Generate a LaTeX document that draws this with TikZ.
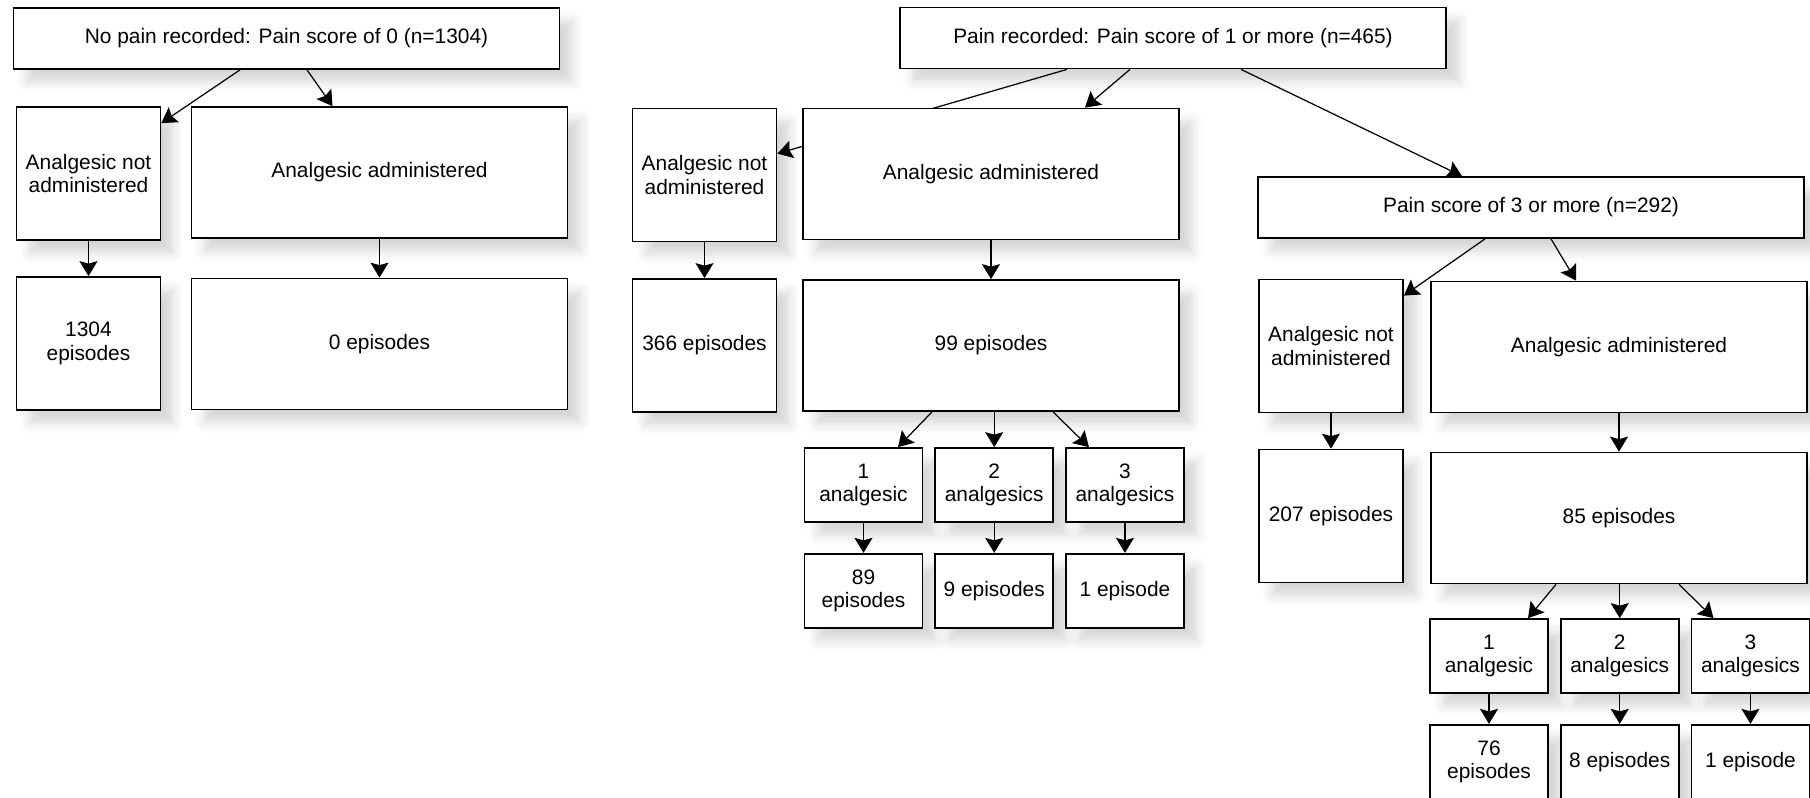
\documentclass[tikz,border=0pt]{standalone}
\usepackage{fontspec}
\setmainfont{Liberation Sans}
\usepackage{tikz}
\usetikzlibrary{arrows.meta,positioning,shadows.blur,backgrounds}
\tikzset{main box/.style={rectangle,draw,fill=white,line width=1pt,inner sep=2pt,align=center,font=\fontsize{11.9}{13.5}\selectfont,blur shadow={shadow xshift=0.26cm,shadow yshift=-0.26cm,shadow blur radius=0.2cm,shadow opacity=16}},}
\tikzset{wide box/.style={main box,minimum width=10.92cm,minimum height=1.22cm},}
\tikzset{admin box/.style={main box,minimum width=7.52cm,minimum height=2.62cm},}
\tikzset{narrow box/.style={main box,minimum width=2.88cm,minimum height=2.66cm},}
\tikzset{small box/.style={main box,minimum width=2.36cm,minimum height=1.48cm},}
\tikzset{link/.style={-{Stealth[length=0.3cm,width=0.36cm,inset=0.05cm]},line width=0.7pt},}

\begin{document}
\begin{tikzpicture}[x=0.02cm,y=-0.02cm]
    \useasboundingbox (0,0) rectangle (1810,798);

    % no pain
    \node[wide box] (nopain) at (286.5,38.5) {No pain recorded: Pain score of 0 (n=1304)};
    \node[narrow box] (nopainnot) at (88.5,173.5) {Analgesic not\\administered};
    \node[admin box] (nopainadm) at (379.5,172.5) {Analgesic administered};
    \node[narrow box] (nopainnotep) at (88.5,343.5) {1304\\episodes};
    \node[admin box] (nopainadmep) at (379.5,344) {0 episodes};

    % pain 1 or more
    \node[wide box] (pain) at (1173,38) {Pain recorded: Pain score of 1 or more (n=465)};
    \node[narrow box] (painnot) at (704.5,175) {Analgesic not\\administered};
    \node[admin box] (painadm) at (991,174) {Analgesic administered};
    \node[narrow box] (painnotep) at (704.5,345.5) {366 episodes};
    \node[admin box] (painadmep) at (991,345.5) {99 episodes};
    \node[small box] (pain1) at (863.5,485) {1\\analgesic};
    \node[small box] (pain2) [right = 0.22cm of pain1] {2\\analgesics};
    \node[small box] (pain3) [right = 0.22cm of pain2] {3\\analgesics};
    \node[small box] (pain1ep) [below = 0.6cm of pain1] {89\\episodes};
    \node[small box] (pain2ep) [below = 0.6cm of pain2] {9 episodes};
    \node[small box] (pain3ep) [below = 0.6cm of pain3] {1 episode};

    % pain 3 or more
    \node[wide box] (severe) at (1531,207.5) {Pain score of 3 or more (n=292)};
    \node[narrow box] (severenot) at (1331,346) {Analgesic not\\administered};
    \node[admin box] (severeadm) at (1619,347) {Analgesic administered};
    \node[narrow box] (severenotep) at (1331,516) {207 episodes};
    \node[admin box] (severeadmep) at (1619,518) {85 episodes};
    \node[small box] (severe1) at (1489,656) {1\\analgesic};
    \node[small box] (severe2) [right = 0.22cm of severe1] {2\\analgesics};
    \node[small box] (severe3) [right = 0.22cm of severe2] {3\\analgesics};
    \node[small box] (severe1ep) [below = 0.6cm of severe1] {76\\episodes};
    \node[small box] (severe2ep) [below = 0.6cm of severe2] {8 episodes};
    \node[small box] (severe3ep) [below = 0.6cm of severe3] {1 episode};

    \path[link] ([xshift=-0.93cm]nopain.south) edge ([yshift=-0.34cm]nopainnot.north east);
    \path[link] ([xshift=0.41cm]nopain.south) edge ([xshift=-0.94cm]nopainadm.north);
    \path[link] (nopainnot) edge (nopainnotep);
    \path[link] (nopainadm) edge (nopainadmep);

    \begin{scope}[on background layer]
    \path[link] ([xshift=-2.12cm]pain.south) edge ([yshift=-0.92cm]painnot.north east);
    \end{scope}
    \path[link] ([xshift=-0.86cm]pain.south) edge ([xshift=1.88cm]painadm.north);
    \path[link] ([xshift=1.36cm]pain.south) edge ([xshift=-1.38cm]severe.north);
    \path[link] (painnot) edge (painnotep);
    \path[link] (painadm) edge (painadmep);
    \path[link] ([xshift=-1.18cm]painadmep.south) edge ([xshift=0.69cm]pain1.north);
    \path[link] (pain2.north |- painadmep.south) edge (pain2.north);
    \path[link] ([xshift=1.24cm]painadmep.south) edge ([xshift=-0.72cm]pain3.north);
    \path[link] (pain1) edge (pain1ep);
    \path[link] (pain2) edge (pain2ep);
    \path[link] (pain3) edge (pain3ep);

    \path[link] ([xshift=-0.92cm]severe.south) edge ([yshift=-0.34cm]severenot.north east);
    \path[link] ([xshift=0.4cm]severe.south) edge ([xshift=-0.86cm]severeadm.north);
    \path[link] (severenot) edge (severenotep);
    \path[link] (severeadm) edge (severeadmep);
    \path[link] ([xshift=-1.26cm]severeadmep.south) edge ([xshift=0.78cm]severe1.north);
    \path[link] (severe2.north |- severeadmep.south) edge (severe2.north);
    \path[link] ([xshift=1.2cm]severeadmep.south) edge ([xshift=-0.74cm]severe3.north);
    \path[link] (severe1) edge (severe1ep);
    \path[link] (severe2) edge (severe2ep);
    \path[link] (severe3) edge (severe3ep);
\end{tikzpicture}
\end{document}
